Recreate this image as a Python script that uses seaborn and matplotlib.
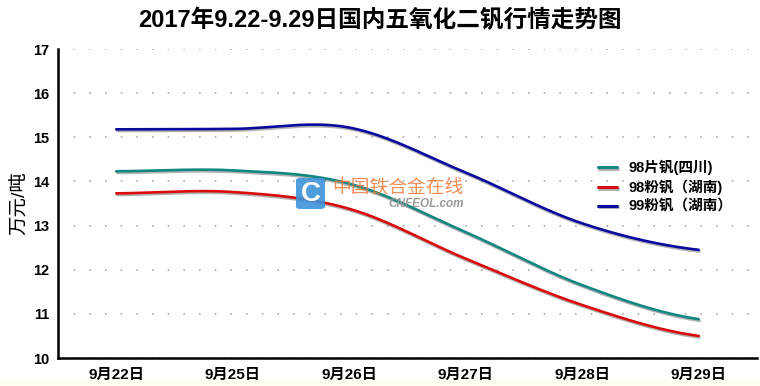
import matplotlib
matplotlib.use("Agg")
import matplotlib.pyplot as plt
import matplotlib.patheffects as pe
from matplotlib.patches import FancyBboxPatch, Rectangle
import numpy as np
import pandas as pd
import seaborn as sns

# data
dates = ["9月22日", "9月25日", "9月26日", "9月27日", "9月28日", "9月29日"]
series_names = ["98片钒(四川)", "98粉钒（湖南)", "99粉钒（湖南）"]
pian_sc = [14.23, 14.25, 13.95, 12.85, 11.65, 10.88]
fen_hn98 = [13.73, 13.76, 13.38, 12.25, 11.2, 10.5]
fen_hn99 = [15.18, 15.19, 15.22, 14.2, 13.05, 12.45]
colors = ["#12877F", "#D90B0B", "#0A0A9E"]


def smooth(vals, n=40):
    # excel-like smoothed line (catmull-rom through the points)
    p = np.asarray(vals, dtype=float)
    m = np.zeros_like(p)
    m[1:-1] = (p[2:] - p[:-2]) / 2
    m[0] = (p[1] - p[0]) / 2
    m[-1] = (p[-1] - p[-2]) / 2
    xs, ys = [], []
    for i in range(len(p) - 1):
        t = np.linspace(0, 1, n, endpoint=False)
        h00 = 2 * t**3 - 3 * t**2 + 1
        h10 = t**3 - 2 * t**2 + t
        h01 = -2 * t**3 + 3 * t**2
        h11 = t**3 - t**2
        xs.append(i + t)
        ys.append(h00 * p[i] + h10 * m[i] + h01 * p[i + 1] + h11 * m[i + 1])
    xs.append([len(p) - 1])
    ys.append([p[-1]])
    return np.concatenate(xs), np.concatenate(ys)


rows = []
for name, vals in zip(series_names, [pian_sc, fen_hn98, fen_hn99]):
    x, y = smooth(vals)
    rows.append(pd.DataFrame({"x": x, "y": y, "series": name}))
df = pd.concat(rows, ignore_index=True)

sns.set_style("white")
plt.rcParams["font.family"] = ["Liberation Sans", "Noto Sans CJK SC", "DejaVu Sans"]
plt.rcParams["text.color"] = "black"
plt.rcParams["axes.labelcolor"] = "black"
plt.rcParams["xtick.color"] = "black"
plt.rcParams["ytick.color"] = "black"

fig = plt.figure(figsize=(7.6, 3.86), dpi=100)
ax = fig.add_axes([58 / 760, 28 / 386, 699 / 760, 309 / 386])

sns.lineplot(data=df, x="x", y="y", hue="series", palette=colors,
             hue_order=series_names, sort=False, linewidth=1.9, ax=ax, legend=True)
for ln in ax.get_lines():
    ln.set_path_effects([pe.SimpleLineShadow(offset=(0.6, -1.2), shadow_color="#555555", alpha=0.45),
                         pe.Normal()])

ax.set_xlim(-0.5, 5.5)
ax.set_ylim(10, 17)
ax.set_yticks(range(10, 18))
ax.set_xticks(np.arange(-0.5, 6, 1))
ax.set_xticklabels([])
ax.set_xticks(range(len(dates)), minor=True)
ax.set_xticklabels(dates, minor=True, fontsize=11, fontweight="bold")
ax.tick_params(axis="x", which="major", direction="inout", length=7, width=1.6, color="black")
ax.tick_params(axis="x", which="minor", length=0, pad=7)
ax.tick_params(axis="y", direction="out", length=4, width=1.6, color="black", labelsize=10.5, pad=2)
for lab in ax.get_yticklabels():
    lab.set_fontweight("bold")

ax.grid(False)
ax.yaxis.grid(True, linestyle=(0, (1, 8.4)), linewidth=1.2, color="#AAAAAA")
sns.despine(ax=ax)
for s in ["left", "bottom"]:
    ax.spines[s].set_linewidth(1.8)
    ax.spines[s].set_color("black")

ax.set_xlabel("")
ax.set_ylabel("万元/吨", fontsize=14, labelpad=4)

leg = ax.legend(loc="center left", bbox_to_anchor=(598 / 760, (386 - 187) / 386),
                bbox_transform=fig.transFigure, frameon=False, fontsize=10.5,
                handlelength=1.3, handletextpad=0.8, labelspacing=0.3,
                borderpad=0, borderaxespad=0)
for t in leg.get_texts():
    t.set_fontweight("bold")
for h in leg.get_lines():
    h.set_linewidth(2.2)

fig.text(0.5, 0.947, "2017年9.22-9.29日国内五氧化二钒行情走势图",
         ha="center", va="center", fontsize=17, fontweight="bold")

# watermark
fig.patches.append(FancyBboxPatch((296 / 760, (386 - 209) / 386), 29 / 760, 31 / 386,
                                  boxstyle="round,pad=0,rounding_size=0.006",
                                  transform=fig.transFigure, facecolor="#3D92DA",
                                  edgecolor="none", alpha=0.9, zorder=5))
fig.text(310.5 / 760, (386 - 194) / 386, "C", ha="center", va="center", fontsize=20,
         fontweight="bold", color="white", zorder=6)
fig.text(332 / 760, (386 - 187) / 386, "中国铁合金在线", ha="left", va="center",
         fontsize=13.5, color="#F07A3A", alpha=0.85, zorder=6)
fig.text(388 / 760, (386 - 204) / 386, "CNFEOL.com", ha="left", va="center",
         fontsize=8.5, color="#9A9A9A", style="italic", fontweight="bold", zorder=6)

fig.patches.append(Rectangle((0, 0), 1, 6 / 386, transform=fig.transFigure,
                             facecolor="#FFFFF0", edgecolor="none"))

fig.savefig("out.png", dpi=100)
